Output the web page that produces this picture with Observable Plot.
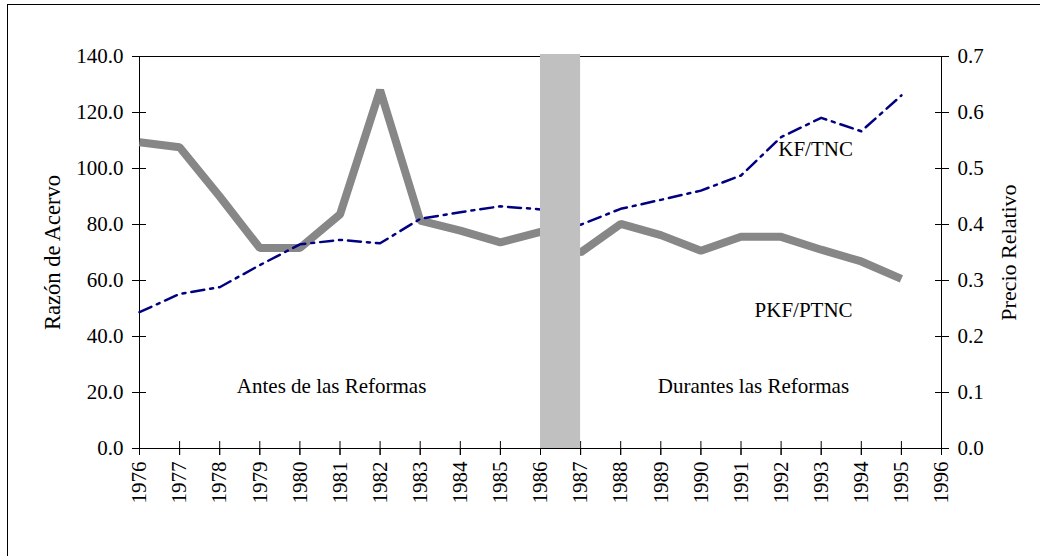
<!DOCTYPE html>
<html>
<head>
<meta charset="utf-8">
<script src="https://cdn.jsdelivr.net/npm/d3@7"></script>
<script src="https://cdn.jsdelivr.net/npm/@observablehq/plot@0.6"></script>
<style>
  html, body { margin: 0; padding: 0; background: #fff; overflow: hidden; }
  #wrap { position: relative; width: 1040px; height: 556px; overflow: hidden; }
  #outer { position: absolute; left: 7px; top: 4px; width: 2000px; height: 2000px;
           border-left: 1px solid #000; border-top: 1px solid #000; pointer-events: none; }
  #chart { position: absolute; left: 0; top: 0; }
  #chart svg text { font-family: 'Liberation Serif', 'Times New Roman', serif; }
</style>
</head>
<body>
<div id="wrap"><div id="outer"></div><div id="chart"></div></div>
<script>
// ---- data ----
const years = [1976,1977,1978,1979,1980,1981,1982,1983,1984,1985,1986,1987,1988,1989,1990,1991,1992,1993,1994,1995];
// KF/TNC (left axis, Razón de Acervo)
const kfTnc = [48.7,55.2,57.6,65.5,72.9,74.5,73.3,82.0,84.4,86.5,85.4,79.9,85.6,88.8,92.1,97.5,111.2,118.1,113.3,126.1];
// PKF/PTNC (right axis, Precio Relativo)
const pkfPtnc = [0.547,0.538,0.450,0.358,0.358,0.418,0.640,0.407,0.389,0.368,0.387,0.350,0.401,0.381,0.353,0.378,0.378,0.355,0.334,0.303];
const xTicks = [1976,1977,1978,1979,1980,1981,1982,1983,1984,1985,1986,1987,1988,1989,1990,1991,1992,1993,1994,1995,1996];
const leftTicks = [0,20,40,60,80,100,120,140];
const rightTicks = [0,0.1,0.2,0.3,0.4,0.5,0.6,0.7];
const reformPeriod = [{start: 1986, end: 1987}];
const labels = [
  {x: 1992.86, y: 106.8, text: "KF/TNC"},
  {x: 1992.56, y: 49.3, text: "PKF/PTNC"},
  {x: 1980.79, y: 22.1, text: "Antes de las Reformas"},
  {x: 1991.31, y: 22.1, text: "Durantes las Reformas"}
];
const leftTitle = "Razón de Acervo";
const rightTitle = "Precio Relativo";

const leftMax = leftTicks[leftTicks.length - 1];
const rightMax = rightTicks[rightTicks.length - 1];
const k = leftMax / rightMax; // right -> left units

const kfData = years.map((y, i) => ({year: y, v: kfTnc[i]}));
const pkData = years.map((y, i) => ({year: y, v: pkfPtnc[i] * k}));
const serif = "'Liberation Serif', 'Times New Roman', serif";

const plot = Plot.plot({
  width: 1040,
  height: 556,
  marginLeft: 139,
  marginRight: 99,
  marginTop: 56,
  marginBottom: 108,
  style: {fontFamily: serif, fontSize: "21px", background: "transparent", color: "#000"},
  x: {domain: [xTicks[0], xTicks[xTicks.length - 1]]},
  y: {domain: [0, leftMax]},
  marks: [
    Plot.frame({stroke: "#000", strokeWidth: 1}),
    // left axis (labels + crossing ticks)
    Plot.axisY({anchor: "left", ticks: leftTicks, tickFormat: d => d.toFixed(1), tickSize: 7, tickPadding: 9, label: null, fontFamily: serif}),
    Plot.axisY({anchor: "left", ticks: leftTicks, tickFormat: () => "", tickSize: 14, dx: 7, label: null}),
    // right axis
    Plot.axisY({anchor: "right", ticks: rightTicks.map(v => v * k), tickFormat: d => (d / k).toFixed(1), tickSize: 7, tickPadding: 9, label: null, fontFamily: serif}),
    Plot.axisY({anchor: "right", ticks: rightTicks.map(v => v * k), tickFormat: () => "", tickSize: 14, dx: -7, label: null}),
    // bottom axis
    Plot.axisX({anchor: "bottom", ticks: xTicks, tickFormat: d => String(d), tickRotate: -90, tickSize: 7, tickPadding: 6, label: null, fontFamily: serif}),
    Plot.axisX({anchor: "bottom", ticks: xTicks, tickFormat: () => "", tickSize: 14, dy: -7, label: null}),
    // series
    Plot.line(pkData, {x: "year", y: "v", stroke: "#878787", strokeWidth: 8, strokeLinejoin: "miter", strokeLinecap: "butt"}),
    Plot.line(kfData, {x: "year", y: "v", stroke: "#000080", strokeWidth: 2.5, strokeDasharray: "13,6,3,6"}),
    // reform period bar
    Plot.rect(reformPeriod, {x1: "start", x2: "end", y1: 0, y2: leftMax, fill: "#c0c0c0", insetTop: -2}),
    // annotations
    Plot.text(labels, {x: "x", y: "y", text: "text", fill: "#000", fontFamily: serif}),
    // axis titles
    Plot.text([leftTitle], {frameAnchor: "left", textAnchor: "middle", rotate: -90, dx: -87, text: d => d, fill: "#000", fontFamily: serif, fontSize: 22.5}),
    Plot.text([rightTitle], {frameAnchor: "right", textAnchor: "middle", rotate: -90, dx: 67, text: d => d, fill: "#000", fontFamily: serif, fontSize: 22})
  ]
});
document.getElementById("chart").appendChild(plot);
</script>
</body>
</html>
